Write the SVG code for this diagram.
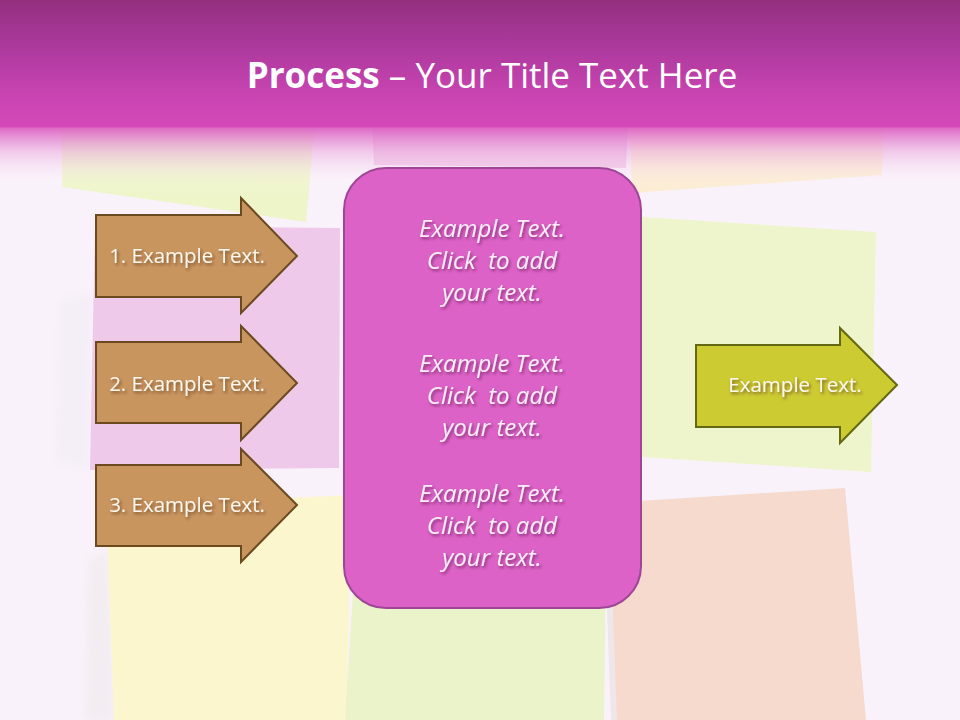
<svg xmlns="http://www.w3.org/2000/svg" width="960" height="720" viewBox="0 0 960 720">
  <defs>
    <linearGradient id="hdr" x1="0" y1="0" x2="0" y2="1">
      <stop offset="0" stop-color="#932f7f"/>
      <stop offset="0.35" stop-color="#ab399c"/>
      <stop offset="0.75" stop-color="#c944b2"/>
      <stop offset="1" stop-color="#d549b9"/>
    </linearGradient>
    <linearGradient id="fadeW" x1="0" y1="0" x2="0" y2="1">
      <stop offset="0" stop-color="#fbf3fb" stop-opacity="0.55"/>
      <stop offset="1" stop-color="#fbf3fb" stop-opacity="0"/>
    </linearGradient>
    <linearGradient id="fadeP" x1="0" y1="0" x2="0" y2="1">
      <stop offset="0" stop-color="#d84cbb" stop-opacity="0.85"/>
      <stop offset="0.45" stop-color="#e07ccc" stop-opacity="0.35"/>
      <stop offset="1" stop-color="#f3d6ee" stop-opacity="0"/>
    </linearGradient>
    <filter id="sh" x="-10%" y="-30%" width="120%" height="160%">
      <feDropShadow dx="1.5" dy="2" stdDeviation="1.4" flood-color="#3a1030" flood-opacity="0.55"/>
    </filter>
    <filter id="shb" x="-10%" y="-30%" width="120%" height="160%">
      <feDropShadow dx="1.5" dy="2" stdDeviation="1.4" flood-color="#3a2008" flood-opacity="0.55"/>
    </filter>
    <filter id="blur"><feGaussianBlur stdDeviation="4"/></filter>
  </defs>
  <style>
    .title{font-family:"Open Sans",Lato,"Liberation Sans",sans-serif;fill:#ffffff;font-size:35px}
    .lbl{font-family:"Open Sans",Lato,"Liberation Sans",sans-serif;fill:#fbf6ee;font-size:20.5px;text-anchor:middle}
    .box{font-family:"Open Sans",Lato,"Liberation Sans",sans-serif;fill:#fbeefa;font-size:24px;font-style:italic;text-anchor:middle}
    .brown{fill:#c9955f;stroke:#6c4a20;stroke-width:2}
    .olive{fill:#cccb31;stroke:#646812;stroke-width:2}
  </style>

  <!-- background -->
  <rect x="0" y="0" width="960" height="720" fill="#faf2fa"/>
  <g id="background-notes">
    <polygon points="60,300 92,290 90,470 57,462" fill="#f4eef7" filter="url(#blur)"/>
    <polygon points="88,560 108,550 116,720 84,720" fill="#f3edf2" filter="url(#blur)"/>
    <polygon points="62,120 315,120 306,222 62,187" fill="#eef5c9"/>
    <polygon points="372,120 628,120 626,168 374,165" fill="#f0c6e6"/>
    <polygon points="630,120 884,120 882,175 632,193" fill="#fcecd2"/>
    <polygon points="95,226 340,228 339,468 90,470" fill="#efc9ea"/>
    <polygon points="106,506 352,495 346,720 114,720" fill="#fcf6cf"/>
    <polygon points="355,560 606,556 604,720 345,720" fill="#ebf3cb"/>
    <polygon points="642,217 876,232 871,472 642,457" fill="#eef5cc"/>
    <polygon points="607,503 845,488 866,720 615,720" fill="#f5dacd"/>
    <polygon points="603,503 609,503 617,720 611,720" fill="#efe6ea"/>
  </g>

  <!-- header -->
  <g id="header">
    <rect x="0" y="0" width="960" height="128" fill="url(#hdr)"/>
    <rect x="0" y="127" width="960" height="70" fill="url(#fadeW)"/>
    <rect x="0" y="127" width="960" height="55" fill="url(#fadeP)"/>
    <text class="title" x="492" y="88" text-anchor="middle"><tspan font-weight="bold">Process</tspan> – Your Title Text Here</text>
  </g>

  <g id="connectors"></g>

  <g id="step1">
    <path class="brown" d="M96,215 H241 V198 L297,256 L241,313 V297 H96 Z"/>
    <text class="lbl" x="187" y="263" filter="url(#shb)">1. Example Text.</text>
  </g>
  <g id="step2">
    <path class="brown" d="M96,342 H241 V326 L297,383 L241,440 V423 H96 Z"/>
    <text class="lbl" x="187" y="391" filter="url(#shb)">2. Example Text.</text>
  </g>
  <g id="step3">
    <path class="brown" d="M96,465 H241 V449 L297,505 L241,562 V546 H96 Z"/>
    <text class="lbl" x="187" y="512" filter="url(#shb)">3. Example Text.</text>
  </g>

  <g id="center-box">
    <rect x="344" y="168" width="297" height="440" rx="42" ry="42" fill="#dd62c7" stroke="#9e4596" stroke-width="2"/>
    <g filter="url(#sh)">
      <text class="box" x="492" y="237">Example Text.</text>
      <text class="box" x="492" y="269" xml:space="preserve">Click  to add</text>
      <text class="box" x="492" y="301">your text.</text>
      <text class="box" x="492" y="372">Example Text.</text>
      <text class="box" x="492" y="404" xml:space="preserve">Click  to add</text>
      <text class="box" x="492" y="436">your text.</text>
      <text class="box" x="492" y="502">Example Text.</text>
      <text class="box" x="492" y="534" xml:space="preserve">Click  to add</text>
      <text class="box" x="492" y="566">your text.</text>
    </g>
  </g>

  <g id="result">
    <path class="olive" d="M696,345 H840 V328 L897,385 L840,443 V427 H696 Z"/>
    <text class="lbl" x="795" y="392" filter="url(#sh)">Example Text.</text>
  </g>
</svg>
